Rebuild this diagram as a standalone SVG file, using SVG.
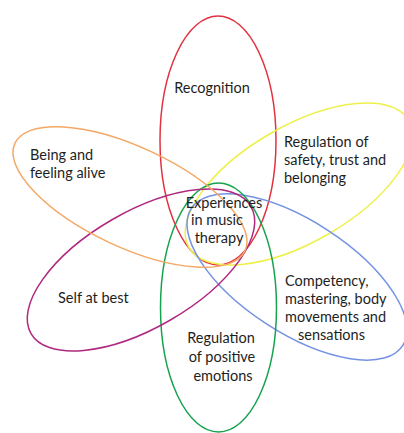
<svg xmlns="http://www.w3.org/2000/svg" width="404" height="433" viewBox="0 0 404 433">
<style>
.pet{fill:none;stroke-width:1.5}
.lbl{font-family:Lato,"Liberation Sans",sans-serif;font-size:14.5px;fill:#1e1e1e}
.mid{text-anchor:middle}
</style>
<rect width="404" height="433" fill="#ffffff"/>
<g id="connectors"></g>
<g id="node-recognition">
<ellipse class="pet" cx="218" cy="140.5" rx="58" ry="124.5" stroke="#e3323f"/>
<text class="lbl mid" x="212" y="93">Recognition</text>
</g>
<g id="node-safety">
<ellipse class="pet" cx="0" cy="0" rx="127" ry="58" transform="translate(299,184) rotate(-30)" stroke="#eef04a"/>
<text class="lbl" x="284" y="147">Regulation of</text>
<text class="lbl" x="284" y="165">safety, trust and</text>
<text class="lbl" x="284" y="183">belonging</text>
</g>
<g id="node-competency">
<ellipse class="pet" cx="0" cy="0" rx="126" ry="56" transform="translate(297,277) rotate(33)" stroke="#7393e2"/>
<text class="lbl" x="285" y="286">Competency,</text>
<text class="lbl" x="285" y="304">mastering, body</text>
<text class="lbl" x="285" y="322">movements and</text>
<text class="lbl" x="298" y="340">sensations</text>
</g>
<g id="node-positive">
<ellipse class="pet" cx="218.5" cy="307.5" rx="58" ry="124.5" stroke="#16a34e"/>
<text class="lbl mid" x="221" y="343">Regulation</text>
<text class="lbl mid" x="222" y="362">of positive</text>
<text class="lbl mid" x="223" y="381">emotions</text>
</g>
<g id="node-self">
<ellipse class="pet" cx="0" cy="0" rx="127" ry="58" transform="translate(141,270) rotate(-30)" stroke="#b0287f"/>
<text class="lbl" x="58" y="303">Self at best</text>
</g>
<g id="node-alive">
<ellipse class="pet" cx="0" cy="0" rx="127" ry="50" transform="translate(130,197) rotate(25)" stroke="#f4a865"/>
<text class="lbl" x="30" y="160">Being and</text>
<text class="lbl" x="30" y="178">feeling alive</text>
</g>
<g id="node-center">
<text class="lbl mid" x="224" y="208">Experiences</text>
<text class="lbl mid" x="217" y="225">in music</text>
<text class="lbl mid" x="219" y="243">therapy</text>
</g>
</svg>
